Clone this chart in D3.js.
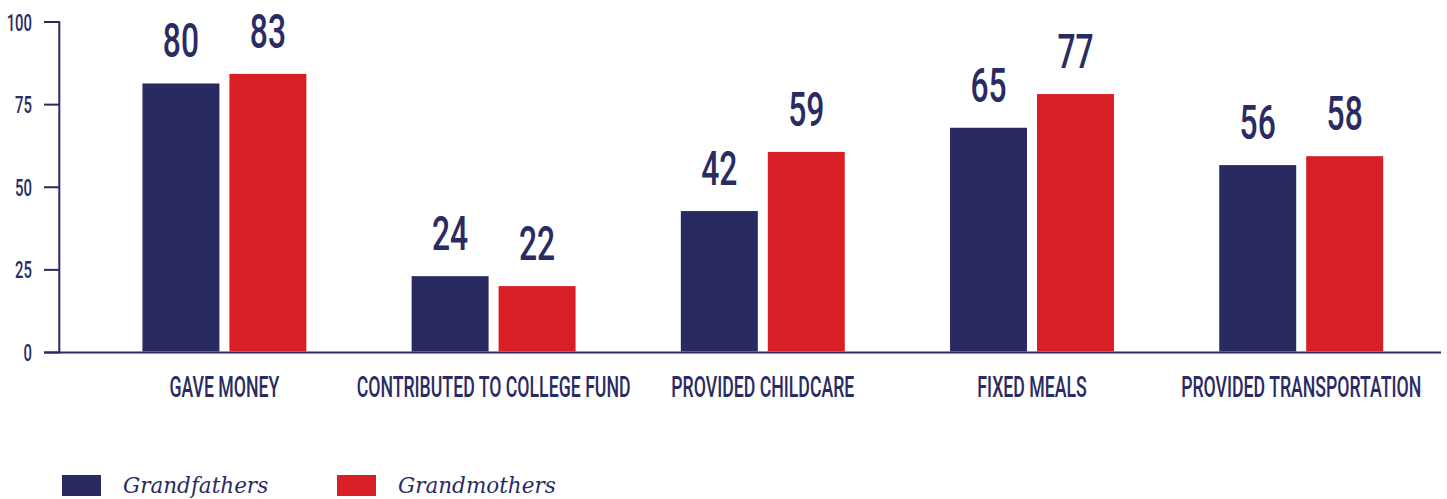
<!DOCTYPE html>
<html>
<head>
<meta charset="utf-8">
<script src="https://cdn.jsdelivr.net/npm/d3@7"></script>
<style>
  html, body { margin: 0; padding: 0; background: #fff; }
  svg { display: block; }
</style>
</head>
<body>
<svg id="chart" width="1447" height="499"></svg>
<script>
// ---- data ----
const categories = ["GAVE MONEY", "CONTRIBUTED TO COLLEGE FUND", "PROVIDED CHILDCARE", "FIXED MEALS", "PROVIDED TRANSPORTATION"];
const seriesNames = ["Grandfathers", "Grandmothers"];
// bar heights as drawn in the picture
const grandfathersBars = [81.4, 23.1, 42.8, 68.0, 56.7];
const grandmothersBars = [84.3, 20.1, 60.7, 78.2, 59.4];
// value labels printed above the bars
const grandfathersLabels = [80, 24, 42, 65, 56];
const grandmothersLabels = [83, 22, 59, 77, 58];
const yTicks = [0, 25, 50, 75, 100];

// ---- styles ----
const NAVY = "#2a2a62";
const RED = "#d91f26";
const TEXT = "#2b2b63";
const colors = [NAVY, RED];

const svg = d3.select("#chart");

const y = d3.scaleLinear().domain([0, 100]).range([352.5, 22]);
const x0 = d3.scaleBand().domain(categories).range([89.8, 1435.8]).paddingInner(0.391).paddingOuter(0.1955);
const x1 = d3.scaleBand().domain(seriesNames).range([0, x0.bandwidth()]).paddingInner(0.115);

const condensed = (sel, s) => sel.attr("transform", function () {
  const xx = +this.getAttribute("data-x"), yy = +this.getAttribute("data-y");
  return `translate(${xx},${yy}) scale(${s},1)`;
});

// ---- y axis ----
const gy = svg.append("g");
gy.append("line")
  .attr("x1", 59.3).attr("x2", 59.3)
  .attr("y1", y(100)).attr("y2", y(0))
  .attr("stroke", NAVY).attr("stroke-width", 2);
gy.selectAll("line.tick").data(yTicks).join("line")
  .attr("class", "tick")
  .attr("x1", 44).attr("x2", 60)
  .attr("y1", d => y(d)).attr("y2", d => y(d))
  .attr("stroke", NAVY).attr("stroke-width", 2);
gy.selectAll("text").data(yTicks).join("text")
  .attr("data-x", 32).attr("data-y", d => y(d) + 8.5)
  .attr("text-anchor", "end")
  .attr("font-family", "Roboto")
  .attr("font-weight", 500)
  .attr("font-size", 24)
  .attr("fill", TEXT)
  .text(d => d)
  .call(condensed, 0.62);

// baseline
svg.append("line")
  .attr("x1", 44).attr("x2", 1441)
  .attr("y1", y(0)).attr("y2", y(0))
  .attr("stroke", NAVY).attr("stroke-width", 2.2);

// ---- bars ----
const rows = categories.map((c, i) => ({
  cat: c,
  vals: [
    { s: seriesNames[0], v: grandfathersBars[i], label: grandfathersLabels[i] },
    { s: seriesNames[1], v: grandmothersBars[i], label: grandmothersLabels[i] }
  ]
}));

const groups = svg.selectAll("g.group").data(rows).join("g")
  .attr("class", "group")
  .attr("transform", d => `translate(${x0(d.cat)},0)`);

groups.selectAll("rect").data(d => d.vals).join("rect")
  .attr("x", d => x1(d.s))
  .attr("y", d => y(d.v))
  .attr("width", x1.bandwidth())
  .attr("height", d => y(0) - y(d.v) - 1)
  .attr("fill", (d, i) => colors[i]);

groups.selectAll("text.val").data(d => d.vals).join("text")
  .attr("class", "val")
  .attr("data-x", d => x1(d.s) + x1.bandwidth() / 2)
  .attr("data-y", d => y(d.v) - 26)
  .attr("text-anchor", "middle")
  .attr("font-family", "Roboto")
  .attr("font-weight", 500)
  .attr("font-size", 49)
  .attr("fill", TEXT)
  .text(d => d.label)
  .call(condensed, 0.65);

// ---- category labels ----
svg.selectAll("text.cat").data(categories).join("text")
  .attr("class", "cat")
  .attr("data-x", d => x0(d) + x0.bandwidth() / 2)
  .attr("data-y", 396.5)
  .attr("text-anchor", "middle")
  .attr("font-family", "Roboto")
  .attr("font-weight", 500)
  .attr("font-size", 30)
  .attr("fill", TEXT)
  .text(d => d)
  .call(condensed, 0.59);

// ---- legend ----
const legendX = [62, 337];
const leg = svg.selectAll("g.leg").data(seriesNames).join("g")
  .attr("class", "leg")
  .attr("transform", (d, i) => `translate(${legendX[i]},475)`);
leg.append("rect")
  .attr("width", 39).attr("height", 21)
  .attr("fill", (d, i) => colors[i]);
leg.append("text")
  .attr("x", 61).attr("y", 18)
  .attr("font-family", "DejaVu Serif")
  .attr("font-style", "italic")
  .attr("font-size", 21.5)
  .attr("fill", TEXT)
  .text(d => d);
</script>
</body>
</html>
